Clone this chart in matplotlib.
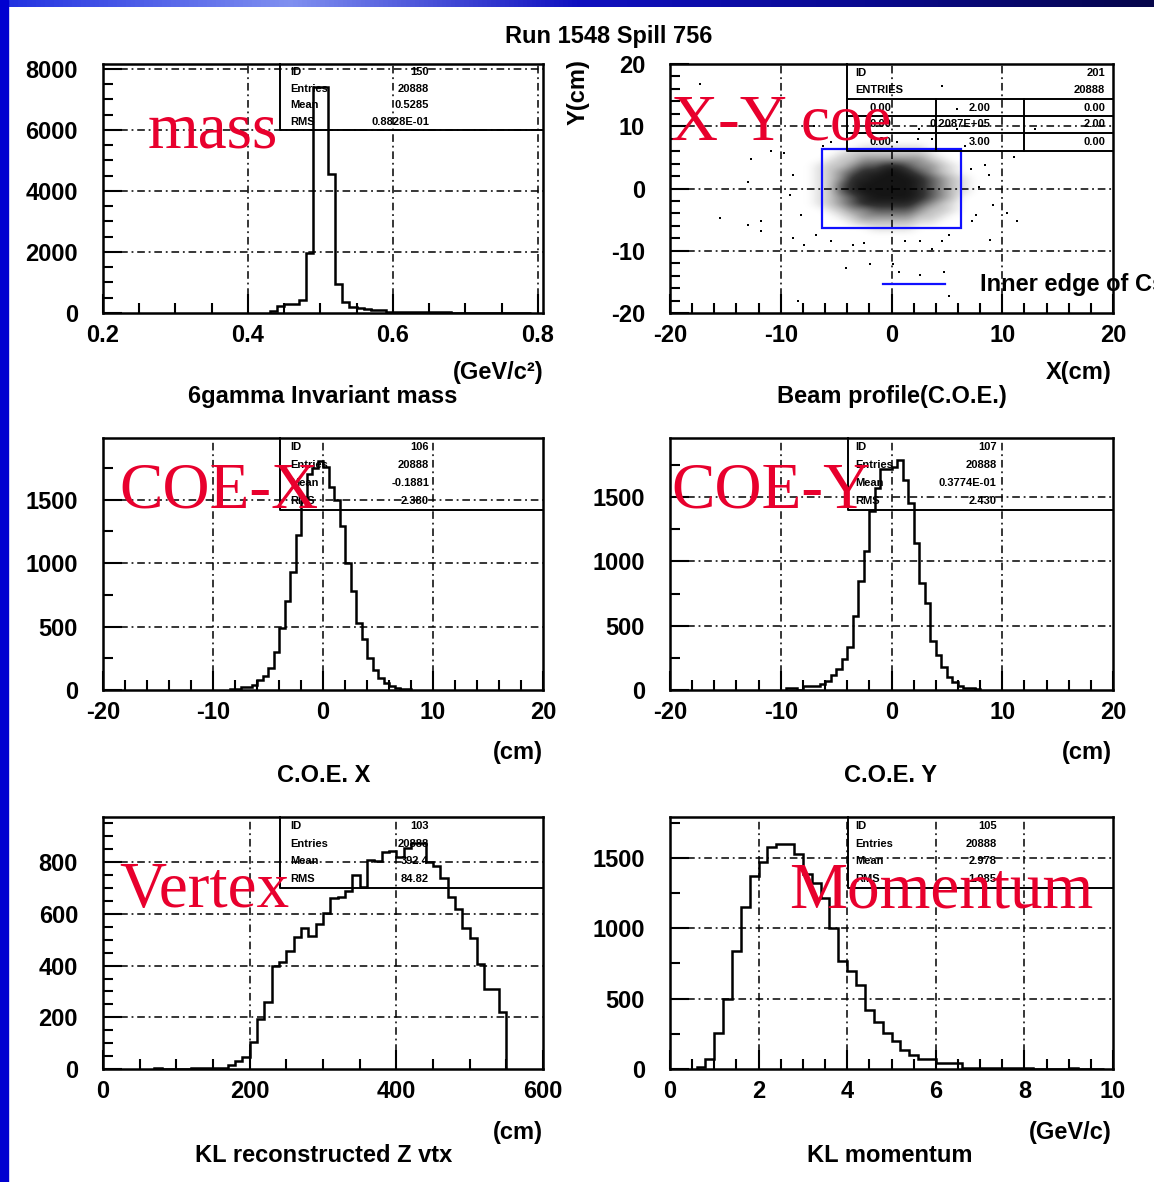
import matplotlib
matplotlib.use("Agg")
import matplotlib.pyplot as plt
import numpy as np
from matplotlib.colors import LinearSegmentedColormap
from matplotlib.patches import Rectangle
from matplotlib.ticker import MultipleLocator

W, H = 1154, 1182
plt.rcParams['font.family'] = ['Liberation Sans', 'DejaVu Sans']
plt.rcParams['font.weight'] = 'bold'

# ---- data ----
# 6gamma invariant mass, 0.01 bins from 0.43
mass_counts = [60, 220, 280, 280, 430, 1980, 7400, 7400, 4550, 960,
               350, 210, 165, 120, 100, 90, 40, 35, 30, 30,
               25, 25, 20, 20, 20, 15, 15, 15, 15, 5,
               5, 0, 0, 15, 10, 15]
mass_range = (0.43, 0.79)

# C.O.E. X, 0.5 cm bins from -8.5
coex_counts = [5, 10, 20, 25, 40, 75, 110, 175, 300, 490, 700, 930, 1220, 1490,
               1700, 1750, 1800, 1760, 1600, 1500, 1290, 1000, 780, 530, 400,
               250, 155, 95, 55, 30, 15, 8, 5]
coex_range = (-8.5, 8.0)

# C.O.E. Y, 0.5 cm bins from -9.5
coey_counts = [12, 12, 3, 30, 30, 30, 47, 73, 120, 165, 240, 335, 575, 845,
               1080, 1390, 1570, 1720, 1720, 1735, 1790, 1630, 1455, 1145, 830,
               675, 385, 270, 180, 100, 60, 35, 15, 12, 8]
coey_range = (-9.5, 8.0)

# KL reconstructed Z vertex, 10 cm bins from 70
vtx_counts = [5, 0, 0, 0, 0, 3, 5, 5, 5, 5, 15, 30, 45, 105, 195, 260, 400, 415,
              455, 510, 545, 515, 560, 605, 660, 665, 690, 750, 705, 810, 805,
              838, 842, 820, 855, 875, 875, 800, 787, 740, 665, 620, 545, 505,
              408, 308, 308, 222]
vtx_range = (70, 550)

# KL momentum, 0.2 GeV/c bins from 0.6
mom_counts = [12, 73, 259, 500, 835, 1152, 1371, 1470, 1575, 1600, 1600, 1528,
              1387, 1324, 1218, 1000, 764, 694, 595, 419, 336, 259, 202, 132,
              101, 73, 73, 42, 42, 42, 10, 9, 8, 7, 6, 6, 5, 5, 0, 3, 0, 3, 4,
              3, 0, 3]
mom_range = (0.6, 9.8)

# beam profile: dot density on 1 cm cells (x -8..8 left to right, y 8..-8 top to bottom)
xy_density = [
    "0000000000000000",
    "0000011111100000",
    "0001222222210000",
    "0012244444421000",
    "0122466886442100",
    "0124688998642100",
    "0124889999864210",
    "0126899999864210",
    "0126899999864210",
    "0124689999864200",
    "0124688888642100",
    "0012446666422100",
    "0001244444221000",
    "0000122222110000",
    "0000001111000000",
    "0000000000000000",
]
# isolated dots outside the core
xy_out_x = [-17.3, 4.6, -12.7, -13.0, -15.5, -11.8, -11.8, -13.0, -4.1, -1.9, 0.1,
            0.7, 2.6, 4.7, 3.7, -8.4, 5.2, 11.1, 11.3, 10.4, 8.9, 9.2, 7.9, 7.6,
            7.3, 8.4, 8.8, 13.0, 5.9, 2.5, 2.4, 3.7, 5.9, -7.0, -10.9, -9.7, -8.9,
            -9.2, -8.2, -8.9, -7.9, -6.8, -5.5, -3.5, -2.5, 1.2, 2.6, 4.6, 5.2,
            -6.2, -5.5, -1.1, 0.5, 6.6, 7.2]
xy_out_y = [16.8, 16.4, 4.8, 1.1, -4.7, -5.3, -6.9, -5.9, -12.7, -12.2, -12.2,
            -13.4, -13.9, -13.4, -9.7, -18.0, -17.2, 5.1, -5.3, -4.0, -8.2, -2.7,
            0.2, -4.2, -5.3, 3.7, 2.1, 9.5, 9.5, 9.5, 8.0, 8.0, 12.8, 10.1, 6.0,
            5.7, 2.1, -1.1, -4.2, -8.0, -9.0, -7.4, -8.5, -9.0, -8.8, -8.5, -8.5,
            -8.5, -7.4, 6.9, 7.4, 8.0, 7.4, 6.9, 3.2]
csi_half = 6.3

stat_labels = ['ID', 'Entries', 'Mean', 'RMS']
mass_stats = ['150', '20888', '0.5285', '0.8828E-01']
coex_stats = ['106', '20888', '-0.1881', '2.380']
coey_stats = ['107', '20888', '0.3774E-01', '2.430']
vtx_stats = ['103', '20888', '392.4', '84.82']
mom_stats = ['105', '20888', '2.978', '1.085']
xy_table = [['0.00', '2.00', '0.00'],
            ['0.00', '0.2087E+05', '2.00'],
            ['0.00', '3.00', '0.00']]

RED = '#e8002d'
grid_ls = (0, (5, 2.5, 1.2, 2.5))

fig = plt.figure(figsize=(W / 100, H / 100), dpi=100)


def rect(l, t, r, b):
    return [l / W, 1 - b / H, (r - l) / W, (b - t) / H]


def ftext(x, y, s, **kw):
    fig.text(x / W, 1 - y / H, s, **kw)


def paw_axes(r, xlim, ylim, xt, xl, xminor, yt, yl, yminor, xgrid, ygrid):
    ax = fig.add_axes(r)
    ax.set_xlim(*xlim)
    ax.set_ylim(*ylim)
    ax.set_xticks(xt, xl)
    ax.set_yticks(yt, yl)
    ax.xaxis.set_minor_locator(MultipleLocator(xminor))
    ax.yaxis.set_minor_locator(MultipleLocator(yminor))
    ax.tick_params(which='major', direction='in', length=14, width=1.5, labelsize=17)
    ax.tick_params(which='minor', direction='in', length=7, width=1.5)
    ax.tick_params(axis='y', which='major', pad=18)
    ax.tick_params(axis='x', which='major', pad=8)
    for sp in ax.spines.values():
        sp.set_linewidth(1.8)
    for g in xgrid:
        ax.axvline(g, color='k', lw=1.1, ls=grid_ls, zorder=0.5)
    for g in ygrid:
        ax.axhline(g, color='k', lw=1.1, ls=grid_ls, zorder=0.5)
    return ax


def hist(ax, counts, rng):
    edges = np.linspace(rng[0], rng[1], len(counts) + 1)
    ax.stairs(counts, edges, color='k', lw=1.8, baseline=0, zorder=3)


def stats(ax, values, bottom, lx=0.425, vx=0.741):
    ax.plot([0.402, 0.402, 1.0], [1.0, bottom, bottom], transform=ax.transAxes,
            color='k', lw=1.4, clip_on=False, zorder=4)
    step = (1 - bottom) / len(values)
    for i, (lab, val) in enumerate(zip(stat_labels, values)):
        y = 1 - (i + 0.5) * step
        ax.text(lx, y, lab, transform=ax.transAxes, fontsize=8, va='center', ha='left')
        ax.text(vx, y, val, transform=ax.transAxes, fontsize=8, va='center', ha='right')


# ---- slide frame ----
top_bar = fig.add_axes([0, 1 - 7 / H, 1, 7 / H])
top_bar.axis('off')
top_bar.imshow(np.linspace(0, 1, 256)[None, :], aspect='auto',
               cmap=LinearSegmentedColormap.from_list('bar', ['#2030e0', '#8090f0', '#1010c0',
                                                                 '#0a0a90', '#06064a']))
fig.patches.append(Rectangle((0, 0), 8 / W, 1, transform=fig.transFigure,
                             color='#0000d0', zorder=5))

ftext(609, 37, 'Run 1548 Spill 756', fontsize=17, ha='center', va='center')

# ---- mass ----
ax = paw_axes(rect(103, 64, 543, 313), (0.2, 0.807), (0, 8160),
              [0.2, 0.4, 0.6, 0.8], ['0.2', '0.4', '0.6', '0.8'], 0.05,
              [0, 2000, 4000, 6000, 8000], ['0', '2000', '4000', '6000', '8000'], 500,
              [0.4, 0.6, 0.8], [2000, 4000, 6000, 8000])
hist(ax, mass_counts, mass_range)
stats(ax, mass_stats, 0.735)
ftext(543, 373, '(GeV/c²)', fontsize=17, ha='right', va='center')
ftext(323, 397, '6gamma Invariant mass', fontsize=17, ha='center', va='center')

# ---- beam profile ----
ax = paw_axes(rect(670, 64, 1113, 313), (-20, 20), (-20, 20),
              [-20, -10, 0, 10, 20], ['-20', '-10', '0', '10', '20'], 2,
              [-20, -10, 0, 10, 20], ['-20', '-10', '0', '10', '20'], 2,
              [-10, 0, 10], [-10, 0, 10])
dens = np.array([[int(c) for c in row] for row in xy_density], dtype=float)
dots = LinearSegmentedColormap.from_list(
    'dots', [(0.0, (0, 0, 0, 0)), (0.15, (0, 0, 0, 0.16)), (0.5, (0, 0, 0, 0.5)),
             (0.8, (0, 0, 0, 0.8)), (1.0, (0, 0, 0, 0.92))])
ax.imshow(dens, extent=(-8, 8, -8, 8), cmap=dots, vmin=0, vmax=9,
          interpolation='bicubic', aspect='auto', zorder=1.5)
ax.set_xlim(-20, 20)
ax.set_ylim(-20, 20)
ax.scatter(xy_out_x, xy_out_y, s=3, marker='s', color='k', lw=0, zorder=2)
ax.add_patch(Rectangle((-csi_half, -csi_half), 2 * csi_half, 2 * csi_half,
                       fill=False, ec='#1010ff', lw=1.6, zorder=3))
ax.plot([-0.8, 4.8], [-15.4, -15.4], color='#1010ff', lw=1.6, zorder=3)
ax.text(8.0, -15.4, 'Inner edge of CsI', fontsize=17, va='center', ha='left', clip_on=False)
# stats table
kw = dict(color='k', lw=1.4, zorder=4, clip_on=False)
ax.plot([-4, -4, 20], [20, 6.0, 6.0], **kw)
for yy in [14.3, 11.7, 8.9]:
    ax.plot([-4, 20], [yy, yy], **kw)
for xx in [4, 12]:
    ax.plot([xx, xx], [14.3, 6.0], **kw)
ax.text(-3.3, 18.6, 'ID', fontsize=8, va='center')
ax.text(19.3, 18.6, '201', fontsize=8, va='center', ha='right')
ax.text(-3.3, 15.9, 'ENTRIES', fontsize=8, va='center')
ax.text(19.3, 15.9, '20888', fontsize=8, va='center', ha='right')
for row, yy in zip(xy_table, [13.0, 10.3, 7.45]):
    for val, xx in zip(row, [0.0, 8.9, 19.3]):
        ax.text(xx, yy, val, fontsize=8, va='center', ha='right')
ftext(578, 92, 'Y(cm)', fontsize=17, ha='center', va='center', rotation=90)
ftext(1112, 373, 'X(cm)', fontsize=17, ha='right', va='center')
ftext(892, 397, 'Beam profile(C.O.E.)', fontsize=17, ha='center', va='center')

# ---- C.O.E. X ----
ax = paw_axes(rect(103, 438, 543, 690), (-20, 20), (0, 1985),
              [-20, -10, 0, 10, 20], ['-20', '-10', '0', '10', '20'], 2,
              [0, 500, 1000, 1500], ['0', '500', '1000', '1500'], 250,
              [-10, 0, 10], [500, 1000, 1500])
hist(ax, coex_counts, coex_range)
stats(ax, coex_stats, 0.714)
ftext(543, 752, '(cm)', fontsize=17, ha='right', va='center')
ftext(324, 776, 'C.O.E. X', fontsize=17, ha='center', va='center')

# ---- C.O.E. Y ----
ax = paw_axes(rect(670, 438, 1113, 690), (-20, 20), (0, 1960),
              [-20, -10, 0, 10, 20], ['-20', '-10', '0', '10', '20'], 2,
              [0, 500, 1000, 1500], ['0', '500', '1000', '1500'], 250,
              [-10, 0, 10], [500, 1000, 1500])
hist(ax, coey_counts, coey_range)
stats(ax, coey_stats, 0.714, lx=0.418, vx=0.737)
ftext(1112, 752, '(cm)', fontsize=17, ha='right', va='center')
ftext(891, 776, 'C.O.E. Y', fontsize=17, ha='center', va='center')

# ---- Z vertex ----
ax = paw_axes(rect(103, 817, 543, 1069), (0, 600), (0, 975),
              [0, 200, 400, 600], ['0', '200', '400', '600'], 50,
              [0, 200, 400, 600, 800], ['0', '200', '400', '600', '800'], 50,
              [200, 400], [200, 400, 600, 800])
hist(ax, vtx_counts, vtx_range)
stats(ax, vtx_stats, 0.718)
ftext(543, 1132, '(cm)', fontsize=17, ha='right', va='center')
ftext(324, 1155, 'KL reconstructed Z vtx', fontsize=17, ha='center', va='center')

# ---- momentum ----
ax = paw_axes(rect(670, 817, 1113, 1069), (0, 10), (0, 1790),
              [0, 2, 4, 6, 8, 10], ['0', '2', '4', '6', '8', '10'], 0.5,
              [0, 500, 1000, 1500], ['0', '500', '1000', '1500'], 250,
              [2, 4, 6, 8], [500, 1000, 1500])
hist(ax, mom_counts, mom_range)
stats(ax, mom_stats, 0.718, lx=0.418, vx=0.737)
ftext(1112, 1132, '(GeV/c)', fontsize=17, ha='right', va='center')
ftext(890, 1155, 'KL momentum', fontsize=17, ha='center', va='center')

# ---- red slide annotations ----
red_kw = dict(family=['Liberation Serif', 'DejaVu Serif'], fontsize=47, color=RED,
              weight='normal', ha='left', va='baseline', zorder=10)
ftext(148, 147, 'mass', **red_kw)
ftext(671, 139, 'X-Y coe', **red_kw)
ftext(119, 507, 'COE-X', **red_kw)
ftext(671, 507, 'COE-Y', **red_kw)
ftext(119, 907, 'Vertex', **red_kw)
ftext(789, 907, 'Momentum', **red_kw)

fig.savefig('out.png', dpi=100)
